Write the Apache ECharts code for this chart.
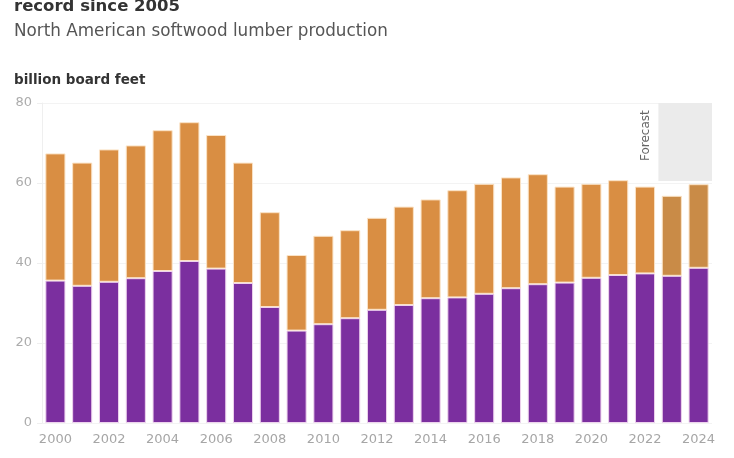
<!DOCTYPE html>
<html>
<head>
<meta charset="utf-8">
<script src="https://cdn.jsdelivr.net/npm/echarts@6/dist/echarts.min.js"></script>
<style>html,body{margin:0;padding:0;background:#fff}#c{width:734px;height:458px}</style>
</head>
<body>
<div id="c"></div>
<script>
var years = ['2000','2001','2002','2003','2004','2005','2006','2007','2008','2009','2010','2011','2012','2013','2014','2015','2016','2017','2018','2019','2020','2021','2022','2023','2024'];
var purpleValues = [35.6,34.3,35.3,36.2,38.0,40.5,38.6,35.0,29.0,23.1,24.7,26.2,28.3,29.5,31.2,31.4,32.3,33.7,34.7,35.1,36.3,37.0,37.4,36.8,38.8];
var orangeValues = [31.8,30.8,33.1,33.2,35.2,34.7,33.4,30.1,23.7,18.9,22.1,22.0,23.0,24.6,24.7,26.8,27.5,27.7,27.5,24.0,23.5,23.7,21.7,20.0,20.9];
var forecastYears = ['2023','2024'];
var forecastShade = [60.5, 80];
var yTicks = [0,20,40,60,80];

var chart = echarts.init(document.getElementById('c'));
var font = '"DejaVu Sans", Verdana, sans-serif';
var fIdx0 = years.indexOf(forecastYears[0]);
var fIdx1 = years.indexOf(forecastYears[forecastYears.length - 1]);
chart.setOption({
  animation: false,
  grid: {left: 42, right: 22, top: 103, bottom: 35},
  xAxis: [{
    type: 'category', data: years,
    axisLine: {show: false}, axisTick: {show: false},
    axisLabel: {interval: 1, color: '#a6a6a6', fontSize: 13, fontFamily: font, margin: 10}
  }, {
    type: 'value', min: -0.5, max: years.length - 0.5, show: false
  }],
  yAxis: {
    type: 'value', min: yTicks[0], max: yTicks[yTicks.length-1], interval: 20,
    axisLine: {show: true, onZero: false, lineStyle: {color: '#efefef'}},
    axisLabel: {color: '#acacac', fontSize: 13, fontFamily: font, margin: 10},
    splitLine: {lineStyle: {color: '#f3f3f3'}}
  },
  series: [
    {
      type: 'line', xAxisIndex: 1, data: [], silent: true,
      markArea: {
        silent: true,
        itemStyle: {color: '#ebebeb'},
        data: [[{xAxis: fIdx0 - 0.5, yAxis: forecastShade[0]}, {xAxis: fIdx1 + 0.5, yAxis: forecastShade[1]}]]
      }
    },
    {
      type: 'bar', stack: 'a', barCategoryGap: '25%',
      data: purpleValues,
      itemStyle: {color: '#7b2f9f', borderColor: '#eed3ee', borderWidth: 1}
    },
    {
      type: 'bar', stack: 'a',
      data: orangeValues.map(function (v, i) {
        return forecastYears.indexOf(years[i]) >= 0 ? {value: v, itemStyle: {color: '#c98b47'}} : v;
      }),
      itemStyle: {color: '#d98e43', borderColor: '#fbe3c6', borderWidth: 1}
    }
  ],
  graphic: [
    {type: 'text', left: 14, top: -2, style: {text: 'record since 2005', font: 'bold 16.5px ' + font, fill: '#333'}},
    {type: 'text', left: 14, top: 23, style: {text: 'North American softwood lumber production', font: '16.8px ' + font, fill: '#555'}},
    {type: 'text', left: 14, top: 73, style: {text: 'billion board feet', font: 'bold 13.5px ' + font, fill: '#333'}},
    {type: 'text', x: 640, y: 161, rotation: Math.PI / 2, style: {text: 'Forecast', font: '12px ' + font, fill: '#666'}}
  ]
});
</script>
</body>
</html>
